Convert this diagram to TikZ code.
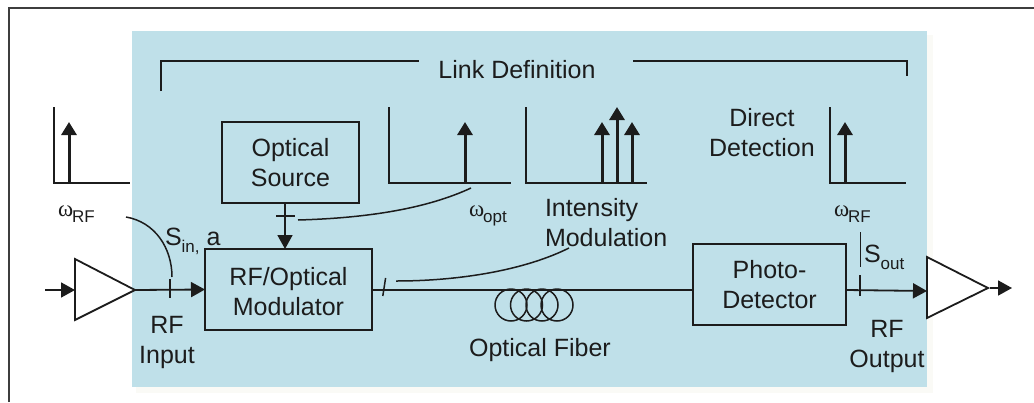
\documentclass[tikz,border=0pt]{standalone}
\usepackage{fontspec}
\setmainfont{Liberation Sans}
\newfontfamily\serifgr{Liberation Serif}
\usetikzlibrary{arrows.meta}
\definecolor{panel}{HTML}{BFE0E9}
\definecolor{ink}{HTML}{1C1C1C}
\definecolor{glow}{HTML}{FAFAF6}
\newcommand{\lowtext}[2]{\raisebox{-#1pt}{\fontsize{17}{17}\selectfont #2}}
\newcommand{\omegalabel}[1]{{\fontsize{23}{23}\serifgr ω}\kern-1pt\lowtext{6}{#1}}
\newcommand{\topstrut}[1]{\rule{0pt}{#1pt}}
\tikzset{
  x=1pt,y=-1pt,
  every node/.style={text=ink,font=\fontsize{25}{30}\selectfont,inner sep=0pt,outer sep=0pt},
  wire/.style={draw=ink,line width=1.8pt},
  thin wire/.style={draw=ink,line width=1.5pt},
  headed/.style={wire,-{Triangle[length=14pt,width=15pt]}},
  spike/.style={draw=ink,line width=3pt,-{Triangle[length=13pt,width=15pt]},shorten >=-1pt},
  axes/.style={draw=ink,line width=1.6pt},
  block/.style={draw=ink,line width=1.8pt,align=center,minimum height=81pt},
  amp/.style={draw=ink,fill=white,line width=1.8pt,line join=miter},
  lbl/.style={align=center},
  basetext/.style={anchor=base west}
}
\begin{document}
\begin{tikzpicture}
\useasboundingbox (0,0) rectangle (1034,402);
% frame
\draw[draw=ink!85,line width=2pt] (8.5,402) -- (8.5,8) -- (1034,8);
% panel
\fill[glow] (136,35) rectangle (933,393);
\fill[panel] (132,31) rectangle (927,387);

% blocks
\node[block,minimum width=137.5pt] (src) at (290.5,162.5) {\topstrut{27}Optical\\\strut Source};
\node[block,minimum width=167pt] (mod) at (288.5,289.5) {\topstrut{31}RF/Optical\\\strut Modulator};
\node[block,minimum width=153pt] (det) at (769.5,284.5) {\topstrut{27}Photo-\\\strut Detector};

% amplifiers
\coordinate (a1t) at (75,259); \coordinate (a1b) at (75,320); \coordinate (a1o) at (135,290);
\coordinate (a1i) at (75,290); \coordinate (a1s) at (45,290);
\coordinate (a2t) at (927,257); \coordinate (a2b) at (927,318); \coordinate (a2o) at (988,288);
\coordinate (a2i) at (927,291); \coordinate (a2e) at (1012,288);
\draw[amp] (a1t) -- (a1o) -- (a1b) -- cycle;
\draw[amp] (a2t) -- (a2o) -- (a2b) -- cycle;

% signal path
\coordinate (modin) at (mod.west);
\coordinate (modout) at (372,290);
\coordinate (detin) at (693,290);
\coordinate (detout) at (846,290);
\draw[headed] (a1s) -- (a1i);
\draw[headed] (a1o) -- (modin);
\draw[wire] (modout) -- (detin);
\draw[headed] (detout) -- (a2i);
\draw[headed,shorten <=2pt] (a2o) -- (a2e);
\coordinate (srcdown) at (285,203);
\coordinate (modtop) at (285,249);
\draw[headed] (srcdown) -- (modtop);

% ticks
\coordinate (t1a) at (170,279); \coordinate (t1b) at (170,298);
\coordinate (t2a) at (276,216); \coordinate (t2b) at (295,216);
\coordinate (t3a) at (385.6,278); \coordinate (t3b) at (382.8,296);
\coordinate (t4a) at (860,275); \coordinate (t4b) at (860,296);
\coordinate (t5a) at (860.5,232); \coordinate (t5b) at (860.5,267);
\draw[thin wire] (t1a) -- (t1b);
\draw[thin wire] (t2a) -- (t2b);
\draw[thin wire] (t3a) -- (t3b);
\draw[thin wire] (t4a) -- (t4b);
\draw[thin wire] (t5a) -- (t5b);

% leader curves
\coordinate (c1a) at (126,217); \coordinate (c1b) at (172,277);
\coordinate (c2a) at (298,220); \coordinate (c2b) at (471,188);
\coordinate (c3a) at (396,281); \coordinate (c3b) at (569,248);
\draw[thin wire] (c1a) .. controls (155,222) and (172,248) .. (c1b);
\draw[thin wire] (c2a) .. controls (370,218) and (428,208) .. (c2b);
\draw[thin wire] (c3a) .. controls (460,281) and (525,270) .. (c3b);

% fibre coil
\foreach \cx in {511,526.5,542,557}
  \draw[thin wire] (\cx,305) ellipse [x radius=16,y radius=16];

% link bracket
\coordinate (bl) at (161,91); \coordinate (blc) at (161,61); \coordinate (bls) at (419,61);
\coordinate (brs) at (633,61); \coordinate (brc) at (907,61); \coordinate (br) at (907,76);
\draw[thin wire] (bl) -- (blc) -- (bls);
\draw[thin wire] (brs) -- (brc) -- (br);

% spectra
\draw[axes] (54,107) -- (54,183) -- (130,183);
\draw[axes] (389,107) -- (389,183) -- (511,183);
\draw[axes] (526,107) -- (526,183) -- (647,183);
\draw[axes] (830,107) -- (830,183) -- (906,183);
\draw[spike] (69,183) -- (69,123);
\draw[spike] (465,183) -- (465,123);
\draw[spike] (602,183) -- (602,123);
\draw[spike] (617,183) -- (617,108);
\draw[spike] (632,183) -- (632,123);
\draw[spike] (845,183) -- (845,123);

% labels
\node[lbl] (link) at (517,72) {\strut Link Definition};
\node[lbl] (direct) at (762,135) {\strut Direct\\\strut Detection};
\node[align=left,anchor=west] (intens) at (545,225) {\strut Intensity\\\strut Modulation};
\node[lbl] (fiber) at (540,350) {\strut Optical Fiber};
\node[lbl] (rfin) at (167,342) {\strut RF\\\strut Input};
\node[lbl] (rfout) at (887,346) {\strut RF\\\strut Output};
\node[basetext] (w1) at (58,216) {\omegalabel{RF}};
\node[basetext] (w2) at (469,216) {\omegalabel{opt}};
\node[basetext] (w3) at (834,216) {\omegalabel{RF}};
\node[basetext] (sin) at (165,245) {S\lowtext{7}{in,} a};
\node[basetext] (sout) at (864,262) {S\lowtext{7}{out}};
\end{tikzpicture}
\end{document}
